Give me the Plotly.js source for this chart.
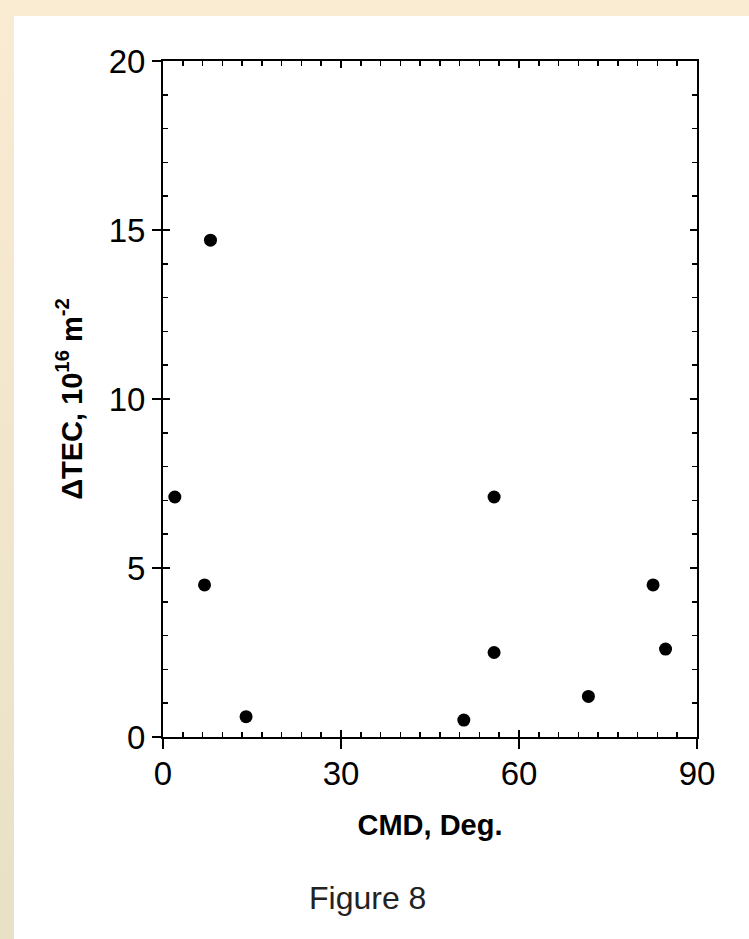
<!DOCTYPE html>
<html>
<head>
<meta charset="utf-8">
<script src="https://cdn.plot.ly/plotly-3.0.1.min.js"></script>
<style>
  html, body { margin: 0; padding: 0; background: #ffffff; width: 749px; height: 939px; overflow: hidden; }
  #topbar { position: absolute; left: 0; top: 0; width: 749px; height: 16px; background: #faebd3; }
  #leftbar { position: absolute; left: 0; top: 0; width: 14px; height: 939px; background: linear-gradient(#faebd3, #e8e1c6); }
  #chart { position: absolute; left: 0; top: 0; width: 749px; height: 939px; }
</style>
</head>
<body>
<div id="topbar"></div>
<div id="leftbar"></div>
<div id="chart"></div>
<script>
// Data
var cmdDeg   = [2.0, 8.0, 7.0, 14.0, 50.7, 55.8, 55.8, 71.7, 82.6, 84.7];
var deltaTEC = [7.1, 14.7, 4.5, 0.6, 0.5, 7.1, 2.5, 1.2, 4.5, 2.6];
var xTickVals = [0, 30, 60, 90];
var yTickVals = [0, 5, 10, 15, 20];
var xTitle = 'CMD, Deg.';
var yTitle = '\u0394TEC, 10<sup>16</sup> m<sup>-2</sup>';
var caption = 'Figure 8';

var fam = '"Liberation Sans Narrow", "Arial Narrow", "Liberation Sans", Arial, sans-serif';
var tickFont = {family: fam, size: 33, color: '#000'};
var titleFont = {family: fam, size: 29, color: '#000', weight: 'bold'};

var traces = [
  {x: cmdDeg, y: deltaTEC, type: 'scatter', mode: 'markers',
   marker: {color: '#000', size: 13, symbol: 'circle'}, hoverinfo: 'skip', showlegend: false},
  {x: [], y: [], xaxis: 'x2', yaxis: 'y2', type: 'scatter', mode: 'markers', showlegend: false}
];

var layout = {
  width: 749, height: 939,
  margin: {l: 163, r: 52, t: 61, b: 202},
  paper_bgcolor: 'rgba(0,0,0,0)',
  plot_bgcolor: '#ffffff',
  showlegend: false,
  xaxis: {
    range: [0, 90], tickvals: xTickVals, ticktext: xTickVals.map(String),
    showgrid: false, zeroline: false,
    showline: true, linecolor: '#000', linewidth: 2, mirror: true,
    ticks: 'outside', ticklen: 10, tickwidth: 2, tickcolor: '#000',
    tickfont: tickFont, ticklabelstandoff: -4,
    title: {text: xTitle, font: titleFont, standoff: 24}
  },
  yaxis: {
    range: [0, 20], tickvals: yTickVals, ticktext: yTickVals.map(String),
    showgrid: false, zeroline: false,
    showline: true, linecolor: '#000', linewidth: 2, mirror: true,
    ticks: 'outside', ticklen: 9, tickwidth: 2, tickcolor: '#000',
    tickfont: tickFont,
    title: {text: yTitle, font: titleFont, standoff: 18}
  },
  xaxis2: {
    overlaying: 'x', anchor: 'y2', side: 'bottom', range: [0, 90],
    showgrid: false, zeroline: false, showline: false, showticklabels: false,
    tickvals: xTickVals, ticks: 'inside', ticklen: 7, tickwidth: 2, tickcolor: '#000',
    mirror: 'allticks',
    minor: {dtick: 10/3, tick0: 0, ticks: 'inside', ticklen: 5, tickwidth: 1.5, tickcolor: '#000', showgrid: false}
  },
  yaxis2: {
    overlaying: 'y', anchor: 'x2', side: 'left', range: [0, 20],
    showgrid: false, zeroline: false, showline: false, showticklabels: false,
    tickvals: yTickVals, ticks: 'inside', ticklen: 7, tickwidth: 2, tickcolor: '#000',
    mirror: 'allticks',
    minor: {dtick: 1, tick0: 0, ticks: 'inside', ticklen: 5, tickwidth: 1.5, tickcolor: '#000', showgrid: false}
  },
  annotations: [
    {text: caption, xref: 'paper', yref: 'paper', x: 0.383, y: -0.238, xanchor: 'center', yanchor: 'middle',
     showarrow: false, font: {family: fam, size: 32, color: '#222'}}
  ]
};

Plotly.newPlot('chart', traces, layout, {displayModeBar: false, staticPlot: true});
</script>
</body>
</html>
